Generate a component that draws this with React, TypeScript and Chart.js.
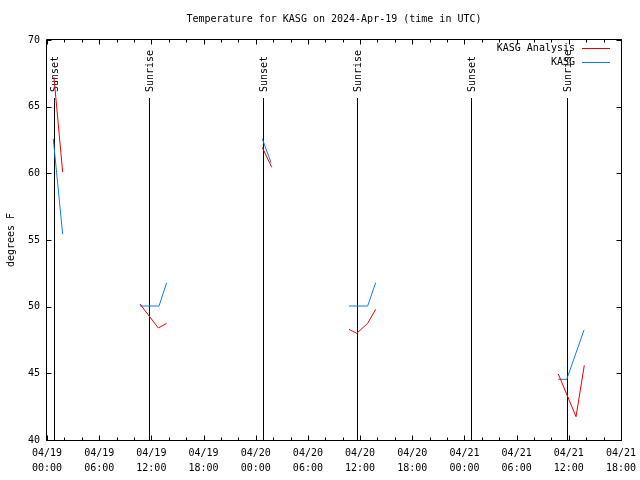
import React, { useEffect, useRef } from "react";
import { Chart, registerables } from "chart.js";

Chart.register(...registerables);

const chartTitle = "Temperature for KASG on 2024-Apr-19 (time in UTC)";
const yAxisLabel = "degrees F";

// hours since 2024-04-19 00:00 UTC; null temps break the line
const analysisHours = [0.8, 1.8, 5, 10.69, 12.8, 13.76, 20, 24.75, 25.84, 30, 34.72, 35.61, 36.87, 37.79, 45, 58.79, 60.83, 61.78];
const analysisTemps = [67.2, 60.1, null, 50.2, 48.4, 48.75, null, 61.95, 60.45, null, 48.3, 48.0, 48.75, 49.8, null, 44.95, 41.75, 45.6];
const observedHours = [0.72, 1.8, 5, 10.69, 12.88, 13.76, 20, 24.75, 25.76, 30, 34.72, 36.87, 37.79, 45, 58.79, 59.76, 61.75];
const observedTemps = [62.6, 55.45, null, 50.05, 50.05, 51.8, null, 62.6, 60.8, null, 50.05, 50.05, 51.8, null, 44.55, 44.55, 48.25];

const sunEventHours = [0.77, 11.68, 24.78, 35.68, 48.78, 59.74];
const sunEventLabels = ["Sunset", "Sunrise", "Sunset", "Sunrise", "Sunset", "Sunrise"];

const xTickDates = ["04/19", "04/19", "04/19", "04/19", "04/20", "04/20", "04/20", "04/20", "04/21", "04/21", "04/21", "04/21"];
const xTickTimes = ["00:00", "06:00", "12:00", "18:00", "00:00", "06:00", "12:00", "18:00", "00:00", "06:00", "12:00", "18:00"];

const seriesNames = ["KASG Analysis", "KASG"];
const seriesColors = ["#e80000", "#0a7fee"];

const FONT = '10px "DejaVu Sans Mono"';

function toPoints(hours: number[], temps: (number | null)[]) {
  return hours.map((h, i) => ({ x: h, y: temps[i] }));
}

const gnuPlugin = {
  id: "gnu",
  beforeDatasetsDraw(chart: any) {
    const { ctx, chartArea, scales } = chart;
    const xs = scales.x;
    ctx.save();
    ctx.strokeStyle = "#000";
    ctx.fillStyle = "#000";
    ctx.lineWidth = 1;
    ctx.font = FONT;
    const lineTop = chartArea.top + (chartArea.bottom - chartArea.top) * 0.145;
    sunEventHours.forEach((h, i) => {
      const px = Math.round(xs.getPixelForValue(h)) + 0.5;
      ctx.beginPath();
      ctx.moveTo(px, lineTop);
      ctx.lineTo(px, chartArea.bottom);
      ctx.stroke();
      ctx.save();
      ctx.translate(px + 0.5, lineTop - 6);
      ctx.rotate(-Math.PI / 2);
      ctx.textAlign = "left";
      ctx.textBaseline = "middle";
      ctx.fillText(sunEventLabels[i], 0, 0);
      ctx.restore();
    });
    ctx.restore();
  },
  afterDraw(chart: any) {
    const { ctx, chartArea, scales } = chart;
    const xs = scales.x;
    const ys = scales.y;
    const L = chartArea.left - 0.5;
    const R = chartArea.right + 0.5;
    const T = chartArea.top - 0.5;
    const B = chartArea.bottom + 0.5;
    ctx.save();
    ctx.strokeStyle = "#000";
    ctx.lineWidth = 1;
    ctx.beginPath();
    ctx.rect(L, T, R - L, B - T);
    ctx.stroke();
    // x ticks (major every 6h, minor every 2h), mirrored on top
    ctx.beginPath();
    for (let h = 0; h <= 66; h += 2) {
      const px = Math.round(xs.getPixelForValue(h)) + 0.5;
      const len = h % 6 === 0 ? 5 : 3;
      ctx.moveTo(px, B);
      ctx.lineTo(px, B - len);
      ctx.moveTo(px, T);
      ctx.lineTo(px, T + len);
    }
    for (let v = 40; v <= 70; v += 5) {
      const py = Math.round(ys.getPixelForValue(v)) + 0.5;
      ctx.moveTo(L, py);
      ctx.lineTo(L + 5, py);
      ctx.moveTo(R, py);
      ctx.lineTo(R - 5, py);
    }
    ctx.stroke();

    ctx.fillStyle = "#000";
    ctx.font = FONT;
    ctx.textAlign = "center";
    ctx.textBaseline = "middle";
    ctx.fillText(chartTitle, (chartArea.left + chartArea.right) / 2, 19.5);

    ctx.save();
    ctx.translate(11, (chartArea.top + chartArea.bottom) / 2);
    ctx.rotate(-Math.PI / 2);
    ctx.fillText(yAxisLabel, 0, 0);
    ctx.restore();

    // legend
    seriesNames.forEach((name, i) => {
      const y = 48.5 + i * 14;
      ctx.textAlign = "right";
      ctx.fillStyle = "#000";
      ctx.fillText(name, 575, y);
      ctx.strokeStyle = seriesColors[i];
      ctx.beginPath();
      ctx.moveTo(582, y);
      ctx.lineTo(610, y);
      ctx.stroke();
    });
    ctx.restore();
  },
};

export default function App() {
  const ref = useRef<HTMLCanvasElement>(null);
  useEffect(() => {
    if (!ref.current) return;
    const chart = new Chart(ref.current, {
      type: "line",
      data: {
        datasets: [
          {
            label: seriesNames[0],
            data: toPoints(analysisHours, analysisTemps),
            borderColor: seriesColors[0],
            borderWidth: 1,
            pointRadius: 0,
            tension: 0,
            spanGaps: false,
          },
          {
            label: seriesNames[1],
            data: toPoints(observedHours, observedTemps),
            borderColor: seriesColors[1],
            borderWidth: 1,
            pointRadius: 0,
            tension: 0,
            spanGaps: false,
          },
        ],
      },
      options: {
        animation: false,
        responsive: false,
        devicePixelRatio: 1,
        layout: { padding: { left: 0, right: 19, top: 40, bottom: 0 } },
        plugins: {
          legend: { display: false },
          title: { display: false },
          tooltip: { enabled: false },
        },
        events: [],
        scales: {
          x: {
            type: "linear",
            min: 0,
            max: 66,
            grid: { display: false, drawTicks: false },
            border: { display: false },
            ticks: {
              stepSize: 6,
              autoSkip: false,
              maxRotation: 0,
              minRotation: 0,
              padding: 6,
              color: "#000",
              font: { family: "DejaVu Sans Mono", size: 10, lineHeight: 1.5 },
              callback: (v: any) => {
                const i = Math.round(Number(v) / 6);
                return [xTickDates[i], xTickTimes[i]];
              },
            },
            afterFit: (s: any) => {
              s.height = 40;
              s.paddingLeft = 0;
              s.paddingRight = 0;
            },
          },
          y: {
            min: 40,
            max: 70,
            grid: { display: false, drawTicks: false },
            border: { display: false },
            ticks: {
              stepSize: 5,
              padding: 7,
              color: "#000",
              font: { family: "DejaVu Sans Mono", size: 10 },
            },
            afterFit: (s: any) => {
              s.width = 47;
              s.paddingTop = 0;
              s.paddingBottom = 0;
            },
          },
        },
      },
      plugins: [gnuPlugin],
    });
    return () => chart.destroy();
  }, []);
  return (
    <div style={{ position: "fixed", left: 0, top: 0, width: 640, height: 480, background: "#fff" }}>
      <canvas ref={ref} width={640} height={480} />
    </div>
  );
}
